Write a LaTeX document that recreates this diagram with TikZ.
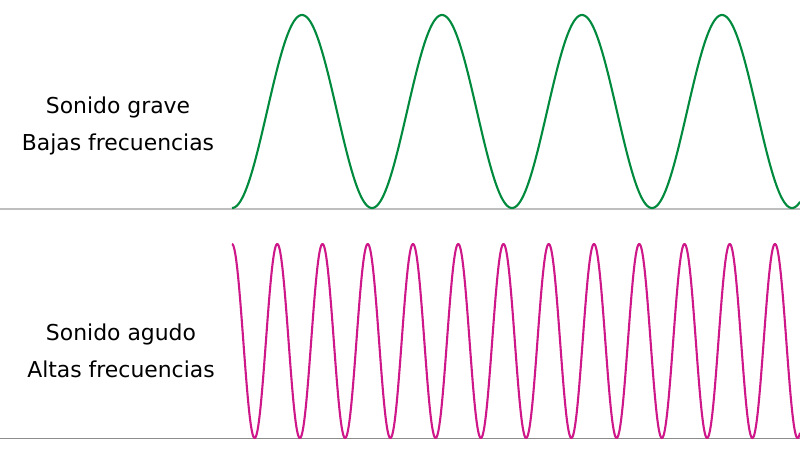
\documentclass[tikz,border=0pt]{standalone}
\usepackage{fontspec}
\setmainfont{DejaVu Sans}
\definecolor{wavegreen}{RGB}{0,138,62}
\definecolor{wavemag}{RGB}{206,24,138}
\definecolor{axlight}{RGB}{190,190,190}
\definecolor{axdark}{RGB}{140,140,140}
\begin{document}
\begin{tikzpicture}[x=1pt,y=-1pt,
  lbl/.style={anchor=base,font=\fontsize{21.9}{26}\selectfont,text=black,inner sep=0pt},
  wave/.style={line width=2.1pt,line join=round}]
\useasboundingbox (0,0) rectangle (800,458);
\fill[white] (0,0) rectangle (800,458);
% axes
\coordinate (a1) at (0,209);
\coordinate (a2) at (800,209);
\coordinate (b1) at (0,438.5);
\coordinate (b2) at (800,438.5);
\draw[axlight,line width=1.4pt] (a1) -- (a2);
\draw[axdark,line width=1.2pt] (b1) -- (b2);
% waves
\draw[wave,wavegreen] plot[domain=232:800,samples=500] (\x,{111.5+96.5*cos((\x-232)/140*360)});
\draw[wave,wavemag] plot[domain=232:800,samples=1200] (\x,{341-97*cos((\x-232)/45.25*360)});
% labels
\node[lbl] (t1) at (118,113) {Sonido grave};
\node[lbl] (t2) at (118,150) {Bajas frecuencias};
\node[lbl] (t3) at (121,340) {Sonido agudo};
\node[lbl] (t4) at (121,377) {Altas frecuencias};
\end{tikzpicture}
\end{document}
